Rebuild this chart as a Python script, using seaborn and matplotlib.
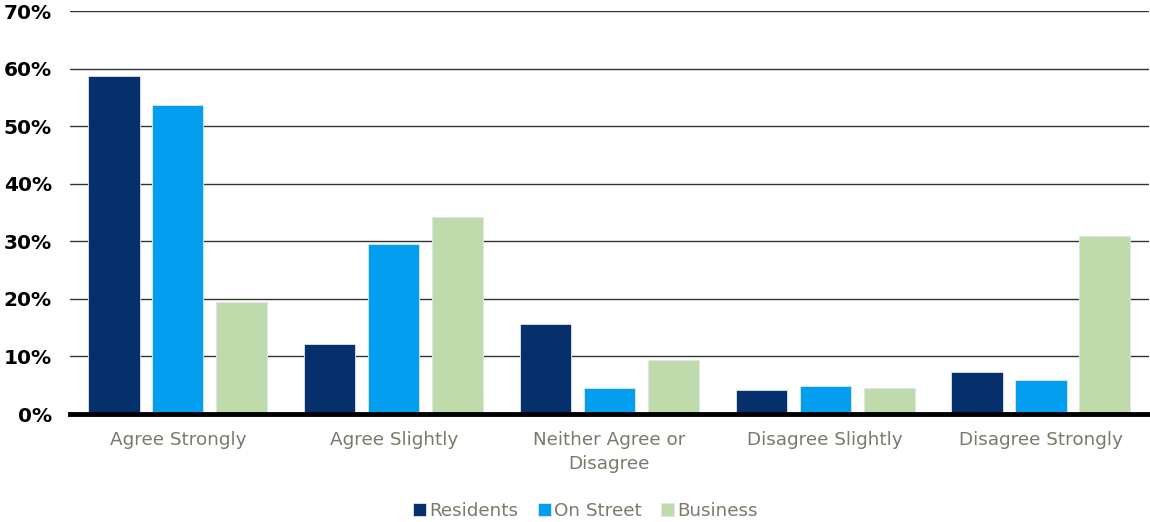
import matplotlib
matplotlib.use("Agg")
import matplotlib.pyplot as plt
import seaborn as sns
import pandas as pd
from matplotlib.ticker import PercentFormatter

categories = ["Agree Strongly", "Agree Slightly", "Neither Agree or\nDisagree",
              "Disagree Slightly", "Disagree Strongly"]
series = ["Residents", "On Street", "Business"]
residents = [58.7, 12.2, 15.6, 4.2, 7.3]
on_street = [53.7, 29.5, 4.5, 4.9, 5.9]
business = [19.5, 34.2, 9.4, 4.5, 31.0]
colors = ["#06306C", "#039EEF", "#BFDAAB"]

rows = []
for name, vals in zip(series, [residents, on_street, business]):
    for cat, v in zip(categories, vals):
        rows.append({"Response": cat, "Group": name, "Percent": v})
df = pd.DataFrame(rows)

sns.set_theme(style="white")
plt.rcParams["font.family"] = ["DejaVu Sans"]

fig = plt.figure(figsize=(11.5, 5.22), dpi=100)
ax = fig.add_axes([70 / 1150, 1 - 414 / 522, 1 - 70 / 1150 - 0.001, (414 - 11) / 522])

sns.barplot(data=df, x="Response", y="Percent", hue="Group", order=categories,
            hue_order=series, palette=colors, width=0.889, gap=0.2,
            edgecolor="#dfe6ee", linewidth=0.6, saturation=1, ax=ax, zorder=3)

ax.set_ylim(0, 70)
ax.set_xlim(-0.5, 4.5)
ax.set_yticks(range(0, 71, 10))
ax.yaxis.set_major_formatter(PercentFormatter(decimals=0))
ax.grid(axis="y", color="#333333", linewidth=1.0, zorder=0)
ax.set_axisbelow(True)
for side in ["left", "right", "top"]:
    ax.spines[side].set_visible(False)
ax.spines["bottom"].set_color("black")
ax.spines["bottom"].set_linewidth(3.5)
ax.spines["bottom"].set_zorder(5)

ax.set_xlabel("")
ax.set_ylabel("")
ax.tick_params(axis="y", length=0, pad=13, labelsize=14.5)
ax.tick_params(axis="x", length=0, pad=12, labelsize=13.2, labelcolor="#7a7a6c")
for lbl in ax.get_yticklabels():
    lbl.set_fontweight("bold")
    lbl.set_color("black")
for lbl in ax.get_xticklabels():
    lbl.set_linespacing(1.45)

handles, labels = ax.get_legend_handles_labels()
ax.legend_.remove()
fig.legend(handles, labels, loc="center", bbox_to_anchor=(0.509, 1 - 511 / 522),
           ncol=3, frameon=False, fontsize=13.2, labelcolor="#7a7a6c",
           handlelength=0.7, handleheight=0.7, handletextpad=0.15, columnspacing=1.1)

fig.savefig("out.png", dpi=100)
